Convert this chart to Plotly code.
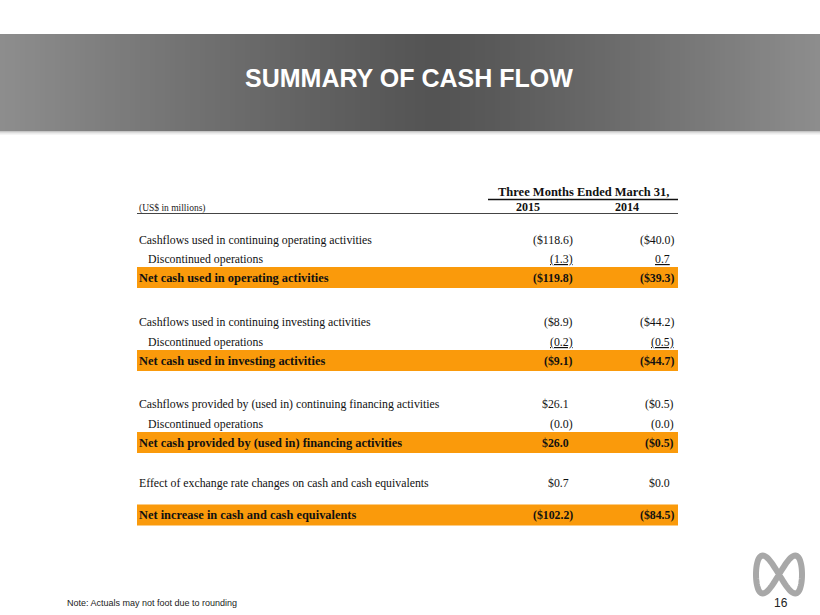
import math
import plotly.graph_objects as go

# ---------------- data ----------------
title_text = "SUMMARY OF CASH FLOW"
period_header = "Three Months Ended March 31,"
unit_label = "(US$ in millions)"
year_labels = ["2015", "2014"]

row_labels = [
    "Cashflows used in continuing operating activities",
    "Discontinued operations",
    "Net cash used in operating activities",
    "Cashflows used in continuing investing activities",
    "Discontinued operations",
    "Net cash used in investing activities",
    "Cashflows provided by (used in) continuing financing activities",
    "Discontinued operations",
    "Net cash provided by (used in) financing activities",
    "Effect of exchange rate changes on cash and cash equivalents",
    "Net increase in cash and cash equivalents",
]
values_2015 = [-118.6, -1.3, -119.8, -8.9, -0.2, -9.1, 26.1, -0.0, 26.0, 0.7, -102.2]
values_2014 = [-40.0, 0.7, -39.3, -44.2, -0.5, -44.7, -0.5, -0.0, -0.5, 0.0, -84.5]
row_types = ["normal", "sub_u", "total", "normal", "sub_u", "total",
             "normal", "sub", "total", "normal", "total"]
note_text = "Note: Actuals may not foot due to rounding"
page_number = "16"

# ---------------- layout / style ----------------
W, H = 820, 615
row_y = [240, 258.5, 277.5, 322, 342, 360.5, 404, 423.5, 442.5, 483, 515]
col_right = [575, 676]
label_x = 137
indent_x = 146
table_right = 678
orange = "#FA9A0B"
serif = "Liberation Serif, Times New Roman, serif"
sans = "Liberation Sans, Arial, sans-serif"


def fmt(v, dollar):
    neg = math.copysign(1, v) < 0
    s = ("$" if dollar else "") + f"{abs(v):.1f}"
    return f"({s})" if neg else s, neg


fig = go.Figure()
shapes = []
annotations = []

# banner gradient
n_strips = 164
for i in range(n_strips):
    x0 = W * i / n_strips
    x1 = W * (i + 1) / n_strips + 0.6
    xc = (x0 + x1) / 2
    center = 440
    d = abs(xc - center) / (center if xc < center else (W - center))
    c = int(84 + (142 - 84) * (d ** 1.15))
    shapes.append(dict(type="rect", xref="x", yref="y", x0=x0, x1=x1, y0=34, y1=131,
                       line=dict(width=0), fillcolor=f"rgb({c},{c},{c})", layer="below"))
# banner shadow
for k, op in enumerate([0.35, 0.22, 0.12, 0.06]):
    shapes.append(dict(type="rect", xref="x", yref="y", x0=0, x1=W, y0=131 + k, y1=132 + k,
                       line=dict(width=0), fillcolor=f"rgba(90,90,90,{op})", layer="below"))

annotations.append(dict(x=409, y=78, xref="x", yref="y", text=f"<b>{title_text}</b>",
                        showarrow=False, xanchor="center", yanchor="middle",
                        font=dict(family=sans, size=25, color="white")))

# header
annotations.append(dict(x=583, y=192, xref="x", yref="y", text=f"<b>{period_header}</b>",
                        showarrow=False, xanchor="center", yanchor="middle",
                        font=dict(family=serif, size=12.5, color="#111")))
shapes.append(dict(type="line", xref="x", yref="y", x0=488, x1=table_right, y0=199.5, y1=199.5,
                   line=dict(color="#111", width=1.6)))
for yl, xc in zip(year_labels, [528, 627]):
    annotations.append(dict(x=xc, y=207, xref="x", yref="y", text=f"<b>{yl}</b>",
                            showarrow=False, xanchor="center", yanchor="middle",
                            font=dict(family=serif, size=12, color="#111")))
annotations.append(dict(x=label_x, y=208.5, xref="x", yref="y", text=unit_label,
                        showarrow=False, xanchor="left", yanchor="middle",
                        font=dict(family=serif, size=9.5, color="#222")))
shapes.append(dict(type="line", xref="x", yref="y", x0=label_x, x1=table_right, y0=213.5, y1=213.5,
                   line=dict(color="#444", width=1)))

# rows
for lab, v15, v14, kind, y in zip(row_labels, values_2015, values_2014, row_types, row_y):
    bold = kind == "total"
    if bold:
        shapes.append(dict(type="rect", xref="x", yref="y", x0=label_x, x1=table_right,
                           y0=y - 10.5, y1=y + 10.5, line=dict(width=0), fillcolor=orange,
                           layer="below"))
    lx = indent_x if kind.startswith("sub") else label_x
    txt = f"<b>{lab}</b>" if bold else lab
    annotations.append(dict(x=lx, y=y, xref="x", yref="y", text=txt, showarrow=False,
                            xanchor="left", yanchor="middle",
                            font=dict(family=serif, size=12.4 if bold else 11.8, color="#111")))
    for v, xr in zip([v15, v14], col_right):
        s, neg = fmt(v, not kind.startswith("sub"))
        if kind == "sub_u":
            s = f"<u>{s}</u>"
        if bold:
            s = f"<b>{s}</b>"
        annotations.append(dict(x=xr if neg else xr - 4, y=y, xref="x", yref="y", text=s,
                                showarrow=False, xanchor="right", yanchor="middle",
                                font=dict(family=serif, size=11.8, color="#111")))

# footer
annotations.append(dict(x=65, y=603, xref="x", yref="y", text=note_text, showarrow=False,
                        xanchor="left", yanchor="middle",
                        font=dict(family=sans, size=9, color="#222")))
annotations.append(dict(x=781, y=603, xref="x", yref="y", text=page_number, showarrow=False,
                        xanchor="center", yanchor="middle",
                        font=dict(family=sans, size=12, color="#222")))

# logo (infinity mark)
pts = []
for i in range(121):
    t = 2 * math.pi * i / 120
    px = 779 + 23 * math.cos(t)
    py = 574.5 + 38 * math.sin(t) * math.cos(t)
    pts.append((px, py))
path = "M " + " L ".join(f"{px:.2f},{py:.2f}" for px, py in pts) + " Z"
shapes.append(dict(type="path", xref="x", yref="y", path=path,
                   line=dict(color="#A8A8A8", width=6)))

fig.update_layout(
    width=W, height=H, margin=dict(l=0, r=0, t=0, b=0),
    paper_bgcolor="white", plot_bgcolor="white",
    xaxis=dict(range=[0, W], visible=False, fixedrange=True),
    yaxis=dict(range=[H, 0], visible=False, fixedrange=True),
    shapes=shapes, annotations=annotations, showlegend=False,
)
fig.write_html("out.html", config={"displayModeBar": False},
               post_script="document.body.style.margin='0';document.body.style.overflow='hidden';")
